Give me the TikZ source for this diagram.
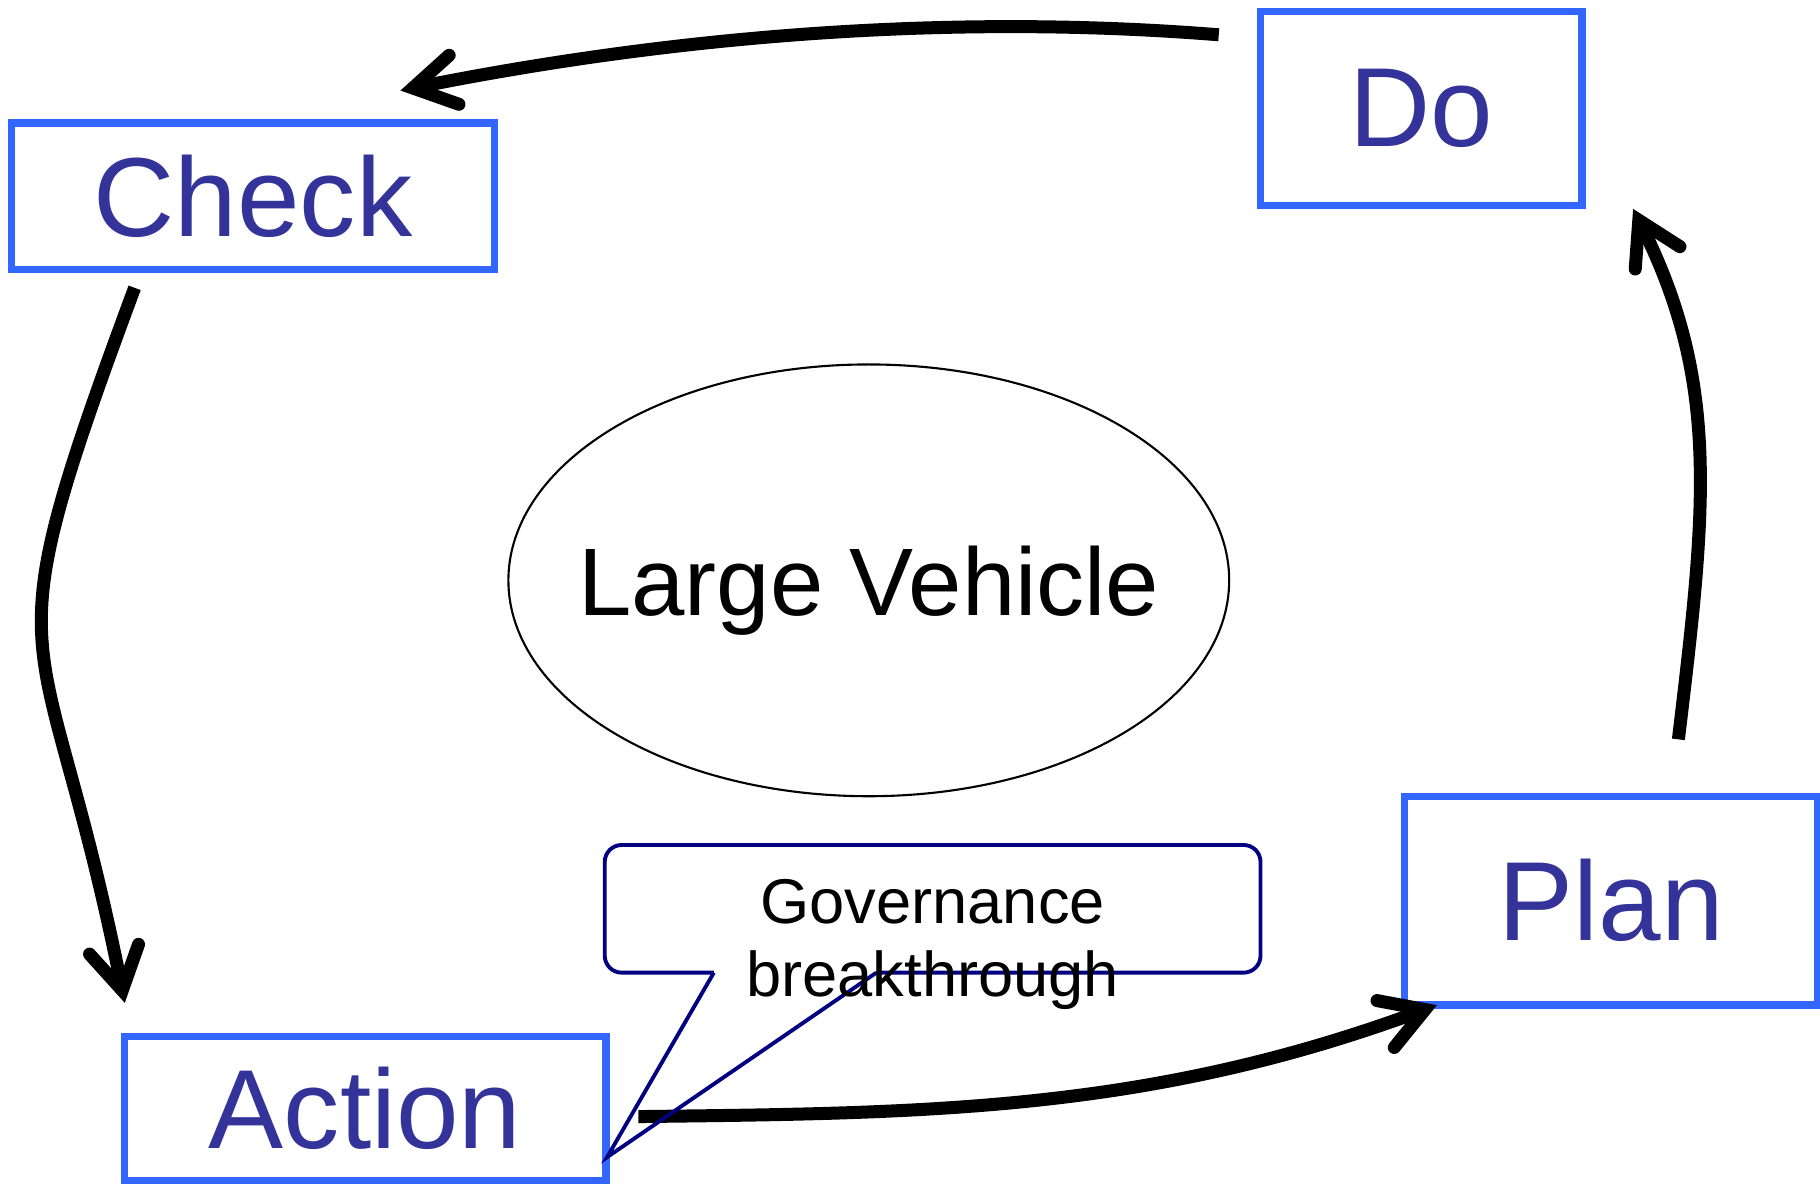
\documentclass[tikz,border=0pt]{standalone}
\usepackage{fontspec}
\setmainfont{Liberation Sans}
\usepackage{tikz}
\usetikzlibrary{arrows.meta}
\definecolor{boxblue}{RGB}{51,102,255}
\definecolor{labelblue}{RGB}{51,51,153}
\definecolor{navyline}{RGB}{0,0,128}

\begin{document}
\begin{tikzpicture}[x=0.011607cm,y=0.011607cm,
            stage/.style={draw=boxblue,line width=2.1pt,text=labelblue,inner sep=0pt,outer sep=0pt,font=\fontsize{32}{38}\selectfont},
            cycle arrow/.style={line width=3.7pt,-{Straight Barb[length=4.2mm,width=5mm,line join=miter,line cap=round]}},
            callout line/.style={draw=navyline,line width=1.1pt}]
            \useasboundingbox (0,0) rectangle (1568,1020);

            \node[stage,minimum width=416*0.011607cm,minimum height=126*0.011607cm] (Check) at (218,851) {Check};
            \node[stage,minimum width=277*0.011607cm,minimum height=167*0.011607cm] (Do) at (1224.5,926.5) {Do};
            \node[stage,minimum width=356*0.011607cm,minimum height=180*0.011607cm] (Plan) at (1388,244) {Plan};
            \node[stage,minimum width=415*0.011607cm,minimum height=124*0.011607cm] (Action) at (314.5,65) {Action};

            \node[text depth=0pt,font=\fontsize{27.3}{33}\selectfont] (Vehicle) at (748.5,520) {Large Vehicle};
            \draw[line width=0.6pt] (Vehicle.center) ellipse [x radius=310.5,y radius=186];

            \draw[cycle arrow] ([shift={(-36,-20)}]Do.north west) .. controls +(-250,20) and +(215,43) .. ([shift={(127,28)}]Check.north);
            \draw[cycle arrow] ([shift={(-102,-16)}]Check.south) .. controls +(-130,-350) and +(-70,350) .. ([shift={(-207,29)}]Action.north);
            \draw[cycle arrow] ([shift={(28,-7)}]Action.east) .. controls +(250,3) and +(-250,-92) .. ([shift={(28,0)}]Plan.south west);
            \draw[cycle arrow] ([shift={(58,49)}]Plan.north) .. controls +(24,200) and +(75,-150) .. ([shift={(44,-3)}]Do.south east);

            \coordinate (tip) at (523,23);
            \draw[callout line,rounded corners=0.17cm] (755,182) -- (1086,182) -- (1086,292) -- (521,292) -- (521,182) -- (615,182);
            \draw[callout line] (615,182) -- (tip) -- (755,182);
            \node[align=center,font=\fontsize{18}{20.8}\selectfont] (Gov) at (803.5,206) {Governance\\breakthrough};
\end{tikzpicture}
\end{document}
